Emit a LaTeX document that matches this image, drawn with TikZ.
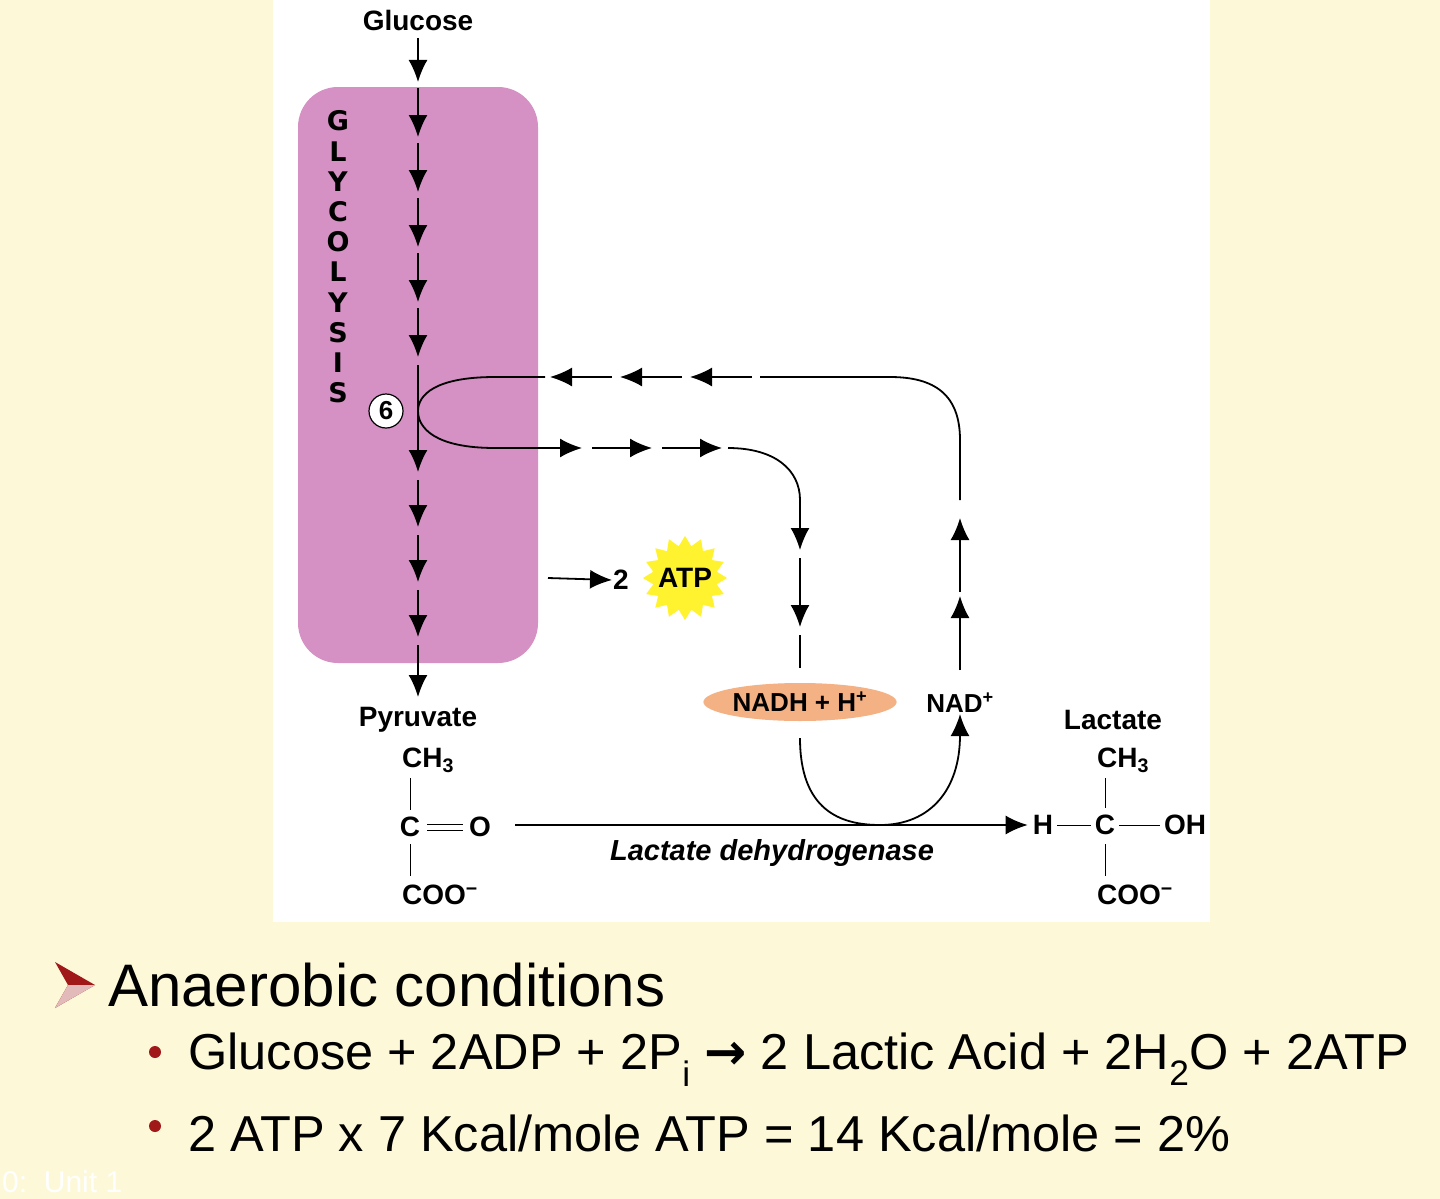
\documentclass[tikz,border=0pt]{standalone}
\usepackage{fontspec}
\setmainfont{Liberation Sans}
\newfontfamily\djv{DejaVu Sans}
\usetikzlibrary{arrows.meta,shapes.geometric,shapes.misc}
\definecolor{cream}{HTML}{FDF9D8}
\definecolor{glyc}{HTML}{D590C4}
\definecolor{nadh}{HTML}{F4B183}
\definecolor{starY}{HTML}{FFF22E}
\definecolor{darkred}{HTML}{A01818}
\tikzset{
  lbl/.style={font=\bfseries\fontsize{28}{30}\selectfont, inner sep=1pt},
  arr/.style={line width=1.8pt,-{Latex[length=22pt,width=19pt]}},
  ln/.style={line width=1.8pt},
  thin/.style={line width=1pt},
  big/.style={font=\fontsize{60}{64}\selectfont, anchor=west, inner sep=0pt},
  bul/.style={font=\fontsize{50.5}{54}\selectfont, anchor=west, inner sep=0pt},
}
\begin{document}
\begin{tikzpicture}[x=1pt,y=-1pt]
\fill[cream] (0,0) rectangle (1440,1199);
\useasboundingbox (0,0) rectangle (1440,1199);
\fill[white] (273,0) rectangle (1210,922);
\fill[glyc,rounded corners=40pt] (298,87) rectangle (538,663);
% labels
\node[lbl] (glu) at (418,20) {Glucose};
\node[lbl,align=center,font=\djv\bfseries\fontsize{27}{30.2}\selectfont] (gly) at (338,257) {G\\L\\Y\\C\\O\\L\\Y\\S\\I\\S};
% main vertical arrows
\foreach \a/\b in {38/82,88/137,143/192,198/247,253/302,308/357,365/472,480/527,535/582,590/637,645/697}
  \draw[arr] (418,\a) -- (418,\b);
\node[circle,draw,fill=white,line width=1.2pt,minimum size=34pt,inner sep=0pt,font=\bfseries\fontsize{26}{28}\selectfont] (six) at (386,411) {6};
% loop
\draw[ln] (545,377) -- (495,377) .. controls (435,377) and (418,395) .. (418,411) .. controls (418,428) and (435,448) .. (495,448) -- (545,448);
% upper return row (leftward)
\foreach \a/\b in {612/550,682/620,752/690}
  \draw[arr] (\a,377) -- (\b,377);
\draw[ln] (760,377) -- (890,377) .. controls (935,377) and (960,395) .. (960,440) -- (960,500);
\foreach \a/\b in {592/518,670/596}
  \draw[arr] (960,\a) -- (960,\b);
% lower row (rightward)
\foreach \a/\b in {545/582,592/652,662/722}
  \draw[arr] (\a,448) -- (\b,448);
\draw[ln] (728,448) .. controls (775,448) and (800,470) .. (800,500);
\draw[arr] (800,500) -- (800,550);
\draw[arr] (800,558) -- (800,627);
\draw[ln] (800,635) -- (800,668);
% ATP
\node[lbl] (two) at (621,580) {2};
\node[star,star points=16,star point ratio=1.3,fill=starY,minimum size=84pt,inner sep=0pt] (atp) at (685,578) {};
\node[lbl] at (atp) {ATP};
\draw[arr] (548,578) -- (two.west);
% NADH, NAD+
\node[ellipse,fill=nadh,minimum width=182pt,minimum height=38pt,inner sep=0pt,lbl,font=\bfseries\fontsize{26}{28}\selectfont] (nadh) at (800,702) {NADH + H\textsuperscript{+}};
\node[lbl,font=\bfseries\fontsize{26}{28}\selectfont] (nad) at (960,703) {NAD\textsuperscript{+}};
\draw[arr] (800,738) .. controls (800,810) and (840,825) .. (880,825) .. controls (930,825) and (960,790) .. (nad.south);
% pyruvate
\node[lbl] (pyr) at (418,720) {Pyruvate};
\node[lbl] (ch3a) at (428,760) {CH\textsubscript{3}};
\node[lbl] (ca) at (410,827) {C};
\node[lbl] (oa) at (480,827) {O};
\node[lbl] (cooa) at (440,895) {COO\textsuperscript{−}};
\draw[thin] (410,778) -- (410,810);
\draw[thin] (410,844) -- (410,876);
\draw[thin] (427,824) -- (463,824);
\draw[thin] (427,830) -- (463,830);
% reaction
\node[lbl] (lac) at (1113,720) {Lactate};
\node[lbl] (ch3b) at (1123,760) {CH\textsubscript{3}};
\node[lbl] (h) at (1043,825) {H};
\node[lbl] (cb) at (1105,825) {C};
\node[lbl] (oh) at (1185,825) {OH};
\node[lbl] (coob) at (1135,895) {COO\textsuperscript{−}};
\draw[thin] (1105,778) -- (1105,808);
\draw[thin] (1105,844) -- (1105,876);
\draw[thin] (h.east)++(3,0) -- ([xshift=-3pt]cb.west);
\draw[thin] (cb.east)++(3,0) -- ([xshift=-3pt]oh.west);
\draw[arr] (515,825) -- ([xshift=-4pt]h.west);
\node[lbl,font=\bfseries\itshape\fontsize{29}{30}\selectfont] (ldh) at (772,853) {Lactate dehydrogenase};
% bottom text
\fill[darkred] (55,962) -- (95,985) -- (55,1008) -- (68,985) -- cycle;
\fill[white!70!darkred] (68,985) -- (95,985) -- (55,1008) -- cycle;
\node[big] (an) at (108,985) {Anaerobic conditions};
\fill[darkred] (155,1052) circle (6);
\node[bul] (b1) at (188,1060) {Glucose + 2ADP + 2P\textsubscript{i} {\djv\bfseries\char"2192} 2 Lactic Acid + 2H\textsubscript{2}O + 2ATP};
\fill[darkred] (155,1126) circle (6);
\node[bul] (b2) at (188,1133) {2 ATP x 7 Kcal/mole ATP = 14 Kcal/mole = 2\%};
\node[font=\fontsize{30}{32}\selectfont,text=white,anchor=west,inner sep=0pt] (foot) at (2,1182) {0:\ \ Unit 1};
\end{tikzpicture}
\end{document}
